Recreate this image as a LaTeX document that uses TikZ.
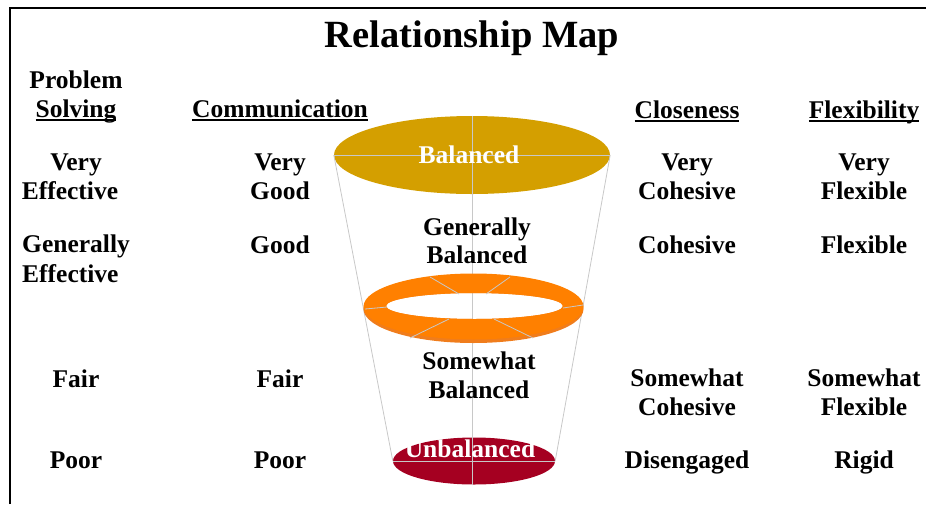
\documentclass[tikz,border=0pt]{standalone}
\usepackage{graphicx}
\usepackage{fontspec}
\setmainfont{Liberation Serif}
\usetikzlibrary{shapes.geometric}
\definecolor{goldtop}{HTML}{D49F00}
\definecolor{ringor}{HTML}{FF8000}
\definecolor{ringrim}{HTML}{F07D1C}
\definecolor{crimbot}{HTML}{A50021}
\definecolor{lgray}{HTML}{C8C8C8}
\newcommand\ulx[1]{\setbox0\hbox{#1}\rlap{\rule[-4pt]{\wd0}{1.8pt}}\box0}
\tikzset{
  lab/.style={anchor=base, inner sep=0pt, font=\fontsize{25.5}{30}\selectfont\bfseries},
  wlab/.style={lab, text=white},
  guide/.style={draw=lgray, line width=0.8pt},
  frameline/.style={line width=1.6pt}
}
\begin{document}
\begin{tikzpicture}[x=1pt,y=-1pt]
\useasboundingbox (0,0) rectangle (926,504);
% frame
\coordinate (fb) at (10,504);
\coordinate (fc) at (10,8);
\coordinate (fr) at (926,8);
\draw[frameline] (fb) -- (fc) -- (fr);
% title
\node[anchor=base, inner sep=0pt] (title) at (472,47)
  {\fontsize{38.5}{44}\selectfont\bfseries Relationship Map};
% funnel ellipses
\node[ellipse, fill=goldtop, minimum width=276pt, minimum height=78pt, inner sep=0pt] (top) at (472,155) {};
\node[ellipse, fill=crimbot, minimum width=162pt, minimum height=47pt, inner sep=0pt] (bot) at (474,461) {};
\draw[guide] (top.north) -- (top.north |- bot.south);
\draw[guide] (top.west) -- (top.east);
\draw[guide] (bot.west) -- (bot.east);
\draw[guide] (top.west) -- (bot.west);
\draw[guide] (top.east) -- (bot.east);
% ring
\fill[ringrim, even odd rule] (473.5,309) ellipse [x radius=110pt, y radius=34pt]
   (474.5,306) ellipse [x radius=88.5pt, y radius=13pt];
\fill[ringor, even odd rule] (473.5,306.5) ellipse [x radius=110pt, y radius=33pt]
   (474.5,306) ellipse [x radius=88.5pt, y radius=13pt];
\coordinate (r1a) at (430,277); \coordinate (r1b) at (459,294);
\coordinate (r2a) at (510,277); \coordinate (r2b) at (486,294);
\coordinate (r3a) at (365,309); \coordinate (r3b) at (387,307);
\coordinate (r4a) at (563,308); \coordinate (r4b) at (583,305);
\coordinate (r5a) at (449,319); \coordinate (r5b) at (410,338);
\coordinate (r6a) at (494,319); \coordinate (r6b) at (533,338);
\foreach \i in {1,...,6} {\draw[guide] (r\i a) -- (r\i b);}
% funnel texts
\node[wlab] (tBal) at (469,163) {Balanced};
\node[wlab] (tUnb) at (470,457) {Unbalanced};
\node[lab] (gb1) at (477,235) {Generally};
\node[lab] (gb2) at (477,263) {Balanced};
\node[lab] (sb1) at (479,369) {Somewhat};
\node[lab] (sb2) at (479,398) {Balanced};
% Problem solving column
\node[lab] (ps1) at (76,88) {Problem};
\node[lab] (ps2) at (76,117) {\ulx{Solving}};
\node[lab] (pa1) at (76,170) {Very};
\node[lab] (pa2) at (70,199) {Effective};
\node[lab, anchor=base west] (pb1) at (22,252) {Generally};
\node[lab, anchor=base west] (pb2) at (22,282) {Effective};
\node[lab] (pc) at (76,387) {Fair};
\node[lab] (pd) at (76,468) {Poor};
% Communication column
\node[lab] (cm) at (280,117) {\ulx{Communication}};
\node[lab] (ca1) at (280,170) {Very};
\node[lab] (ca2) at (280,199) {Good};
\node[lab] (cb) at (280,253) {Good};
\node[lab] (cc) at (280,387) {Fair};
\node[lab] (cd) at (280,468) {Poor};
% Closeness column
\node[lab] (cl) at (687,118) {\ulx{Closeness}};
\node[lab] (la1) at (687,170) {Very};
\node[lab] (la2) at (687,199) {Cohesive};
\node[lab] (lb) at (687,253) {Cohesive};
\node[lab] (lc1) at (687,386) {Somewhat};
\node[lab] (lc2) at (687,415) {Cohesive};
\node[lab] (ld) at (687,468) {Disengaged};
% Flexibility column
\node[lab] (fl) at (864,118) {\ulx{Flexibility}};
\node[lab] (xa1) at (864,170) {Very};
\node[lab] (xa2) at (864,199) {Flexible};
\node[lab] (xb) at (864,253) {Flexible};
\node[lab] (xc1) at (864,386) {Somewhat};
\node[lab] (xc2) at (864,415) {Flexible};
\node[lab] (xd) at (864,468) {Rigid};
\end{tikzpicture}
\end{document}
